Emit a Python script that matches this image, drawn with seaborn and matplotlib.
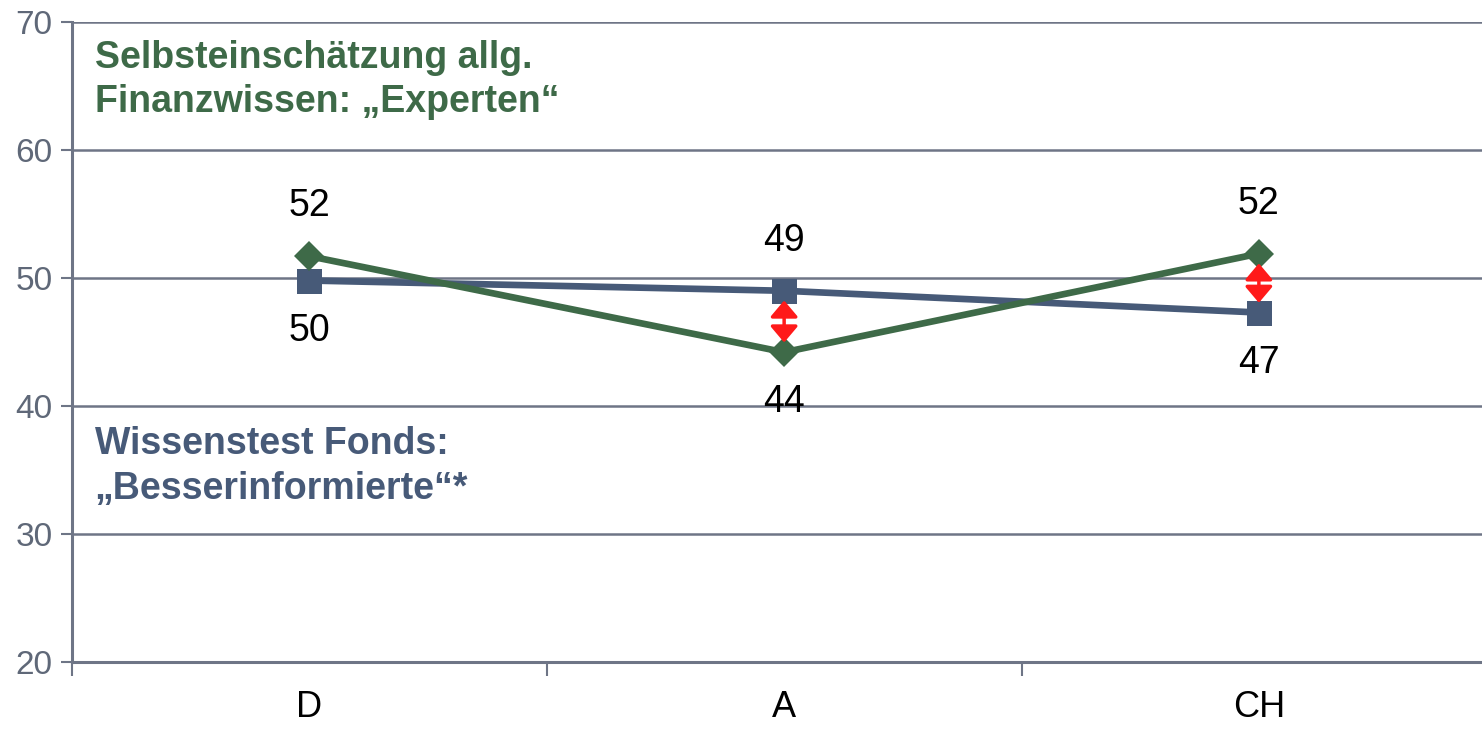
import pandas as pd
import matplotlib.pyplot as plt
import seaborn as sns

# data
countries = ["D", "A", "CH"]
experten = [51.7, 44.2, 51.9]        # self-assessment "Experten"
besser = [49.8, 49.0, 47.3]          # knowledge test "Besserinformierte"
experten_lbl = ["52", "44", "52"]
besser_lbl = ["50", "49", "47"]
gap_idx = [1, 2]                     # where the red arrows are drawn

GREEN = "#3e6a48"
BLUE = "#475a78"
GRID = "#6e7586"

sns.set_style("white")
plt.rcParams["font.family"] = ["Liberation Sans", "DejaVu Sans"]

df = pd.DataFrame({
    "land": countries * 2,
    "wert": experten + besser,
    "serie": ["exp"] * 3 + ["bes"] * 3,
})

fig = plt.figure(figsize=(14.82, 7.29), dpi=100)
ax = fig.add_axes([0.0486, 0.0919, 0.9514, 0.878])

sns.lineplot(data=df[df.serie == "bes"], x="land", y="wert", color=BLUE,
             lw=4.8, marker="s", markersize=18, markeredgewidth=0, sort=False, ax=ax)
sns.lineplot(data=df[df.serie == "exp"], x="land", y="wert", color=GREEN,
             lw=4.8, marker="D", markersize=15, markeredgewidth=0, sort=False, ax=ax)

# value labels: higher one above, lower one below
for i in range(len(countries)):
    pairs = [(experten[i], experten_lbl[i]), (besser[i], besser_lbl[i])]
    hi, lo = sorted(pairs, reverse=True)
    ax.annotate(hi[1], (i, hi[0]), xytext=(0, 36), textcoords="offset points",
                ha="center", va="center", fontsize=27, color="black")
    ax.annotate(lo[1], (i, lo[0]), xytext=(0, -36), textcoords="offset points",
                ha="center", va="center", fontsize=27, color="black")

# red double arrows showing the gap
for i in gap_idx:
    ax.annotate("", xy=(i, min(experten[i], besser[i])), xytext=(i, max(experten[i], besser[i])),
                arrowprops=dict(arrowstyle="<|-|>,head_length=0.45,head_width=0.38",
                                color="#ff1a1a", lw=2.5,
                                mutation_scale=22, shrinkA=7, shrinkB=7))

ax.text(0.016, 0.972, "Selbsteinschätzung allg.\nFinanzwissen: „Experten“",
        transform=ax.transAxes, fontsize=27, fontweight="bold", color=GREEN,
        va="top", ha="left", linespacing=1.3)
ax.text(0.016, 0.368, "Wissenstest Fonds:\n„Besserinformierte“*",
        transform=ax.transAxes, fontsize=27, fontweight="bold", color=BLUE,
        va="top", ha="left", linespacing=1.3)

ax.set_ylim(20, 70)
ax.set_yticks(range(20, 71, 10))
ax.set_xlim(-0.5, 2.47)
ax.set_xticks([0, 1, 2])
ax.set_xticklabels(countries, fontsize=26, color="black")
ax.set_xticks([-0.5, 0.5, 1.5], minor=True)
ax.tick_params(axis="x", which="major", bottom=False, pad=17)
ax.tick_params(axis="x", which="minor", bottom=True, length=10, width=1.5, color=GRID)
ax.tick_params(axis="y", left=True, length=8, width=1.5, color=GRID, labelsize=24,
               labelcolor="#5f6878", pad=6)
ax.set_xlabel("")
ax.set_ylabel("")
ax.yaxis.grid(True, color=GRID, lw=1.8)
ax.set_axisbelow(True)

for s in ["top", "right"]:
    ax.spines[s].set_visible(False)
for s in ["left", "bottom"]:
    ax.spines[s].set_color(GRID)
    ax.spines[s].set_linewidth(2.2)

fig.savefig("out.png", dpi=100)
